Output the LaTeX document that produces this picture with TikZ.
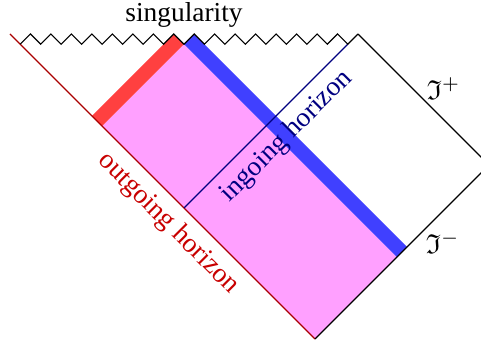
\documentclass[tikz,border=0pt]{standalone}
\usepackage{amssymb}
\usepackage{fontspec}
\setmainfont{Liberation Serif}
\usetikzlibrary{calc}
\definecolor{pinkfill}{RGB}{255,160,255}
\definecolor{redband}{RGB}{255,64,64}
\definecolor{blueband}{RGB}{64,64,255}
\definecolor{outline}{RGB}{170,0,0}
\definecolor{outtext}{RGB}{200,0,0}
\definecolor{inline}{RGB}{0,0,128}
\tikzset{
  edgeline/.style={line width=0.4pt, black},
  outhor/.style={line width=0.4pt, outline},
  inhor/.style={line width=0.4pt, inline},
  outlabel/.style={text=outtext, rotate=-45, anchor=north, inner sep=3.3pt},
  inlabel/.style={text=inline, rotate=45, anchor=north, inner sep=3.3pt},
  scrilabel/.style={inner sep=0.5pt}
}
\begin{document}
\begin{tikzpicture}[x=0.365pt,y=-0.365pt]
\clip (0,0) rectangle (481,341);
\pgfmathsetmacro\h{10.235}
% corners
\coordinate (L) at (10,34);
\coordinate (T) at (358,34);
\coordinate (R) at (489,165);
\coordinate (B) at (315,339);
\coordinate (I) at (184,208);
\coordinate (Z0) at ({10+\h},{34+\h});
\coordinate (Z1) at ({10+33*\h},{34+\h});
\coordinate (M) at (184,34);
\coordinate (SP) at (425,101);
\coordinate (SM) at (424,230);
% fills
\fill[pinkfill] (102.1,126.1) -- (183.99,44.2) -- (396.88,257.12) -- (B) -- cycle;
\fill[redband] (91.88,115.88) -- (102.1,126.1) -- (183.99,44.2) -- (173.76,33.99) -- cycle;
\fill[blueband] (183.99,44.2) -- (194.22,34.0) -- (407.12,246.88) -- (396.88,257.12) -- cycle;
% horizons
\draw[outhor] (L) -- (B);
\draw[inhor] (Z1) -- (I);
% scri
\draw[edgeline] (T) -- (R) -- (B);
% singularity zigzag
\draw[edgeline, line join=miter] (Z0)
  \foreach \k in {1,...,16}{ -- ({10+2*\k*\h},34) -- ({10+(2*\k+1)*\h},{34+\h}) } -- (T);
% labels
\node[anchor=south, inner sep=2.2pt] (sing) at (M) {singularity};
\node[outlabel] (outlab) at (I) {outgoing horizon};
\node[inlabel] (inlab) at ($(T)!0.5!(I)$) {ingoing horizon};
\node[scrilabel, anchor=south west] (scrip) at (SP) {$\mathfrak{I}^+$};
\node[scrilabel, anchor=north west] (scrim) at (SM) {$\mathfrak{I}^-$};
\end{tikzpicture}
\end{document}
